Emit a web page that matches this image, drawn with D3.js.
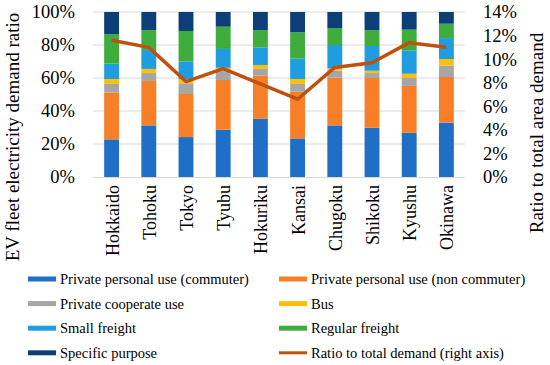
<!DOCTYPE html>
<html>
<head>
<meta charset="utf-8">
<script src="https://cdn.jsdelivr.net/npm/d3@7"></script>
<style>
  body { margin: 0; background: #fff; }
</style>
</head>
<body>
<svg id="vis" width="550" height="365"></svg>
<script>
// regions on the x axis
var regions = ["Hokkaido", "Tohoku", "Tokyo", "Tyubu", "Hokuriku", "Kansai", "Chugoku", "Shikoku", "Kyushu", "Okinawa"];

// share of each use type (%), bottom to top
var commuter    = [22.8, 31.3, 24.2, 28.7, 35.3, 23.4, 31.3, 29.9, 26.8, 32.9];
var nonCommuter = [28.3, 26.9, 26.1, 30.1, 26.1, 28.3, 28.9, 30.1, 28.4, 27.7];
var cooperate   = [5.3, 4.8, 6.5, 5.4, 4.1, 4.7, 4.2, 3.0, 4.8, 6.9];
var bus         = [3.0, 2.5, 2.4, 2.0, 2.4, 3.0, 1.5, 1.4, 2.6, 4.0];
var smallFreight   = [9.3, 11.5, 10.9, 11.4, 10.7, 12.3, 14.1, 15.0, 14.2, 12.7];
var regularFreight = [17.8, 12.0, 18.4, 13.5, 10.5, 16.0, 10.3, 9.5, 12.5, 8.7];
var specific       = [13.5, 11.0, 11.5, 8.9, 10.9, 12.3, 9.7, 11.1, 10.7, 7.1];

// ratio to total area demand (%), right axis
var ratioTotal = [11.6, 11.0, 8.1, 9.2, 7.9, 6.6, 9.3, 9.7, 11.4, 11.0];

var leftTicks = [0, 20, 40, 60, 80, 100];
var rightTicks = [0, 2, 4, 6, 8, 10, 12, 14];

var seriesNames = ["Private personal use (commuter)", "Private personal use (non commuter)",
  "Private cooperate use", "Bus", "Small freight", "Regular freight", "Specific purpose"];
var seriesValues = [commuter, nonCommuter, cooperate, bus, smallFreight, regularFreight, specific];
var lineName = "Ratio to total demand (right axis)";

const colors = ["#1f6fc6", "#f77f27", "#a6a6a6", "#fdc00a", "#1f9de0", "#3fad3c", "#0c3f78"];
const lineColor = "#c0500f";
const serif = "'Liberation Serif', 'Times New Roman', Times, serif";

var svg = d3.select("svg#vis");

var plot = { left: 93, right: 465, top: 12, bottom: 177 };

var x = d3.scaleBand()
  .domain(regions)
  .range([plot.left, plot.right])
  .paddingInner(0.6)
  .paddingOuter(0.3);

var y = d3.scaleLinear().domain([0, 100]).range([plot.bottom, plot.top]);
var y2 = d3.scaleLinear().domain([0, 14]).range([plot.bottom, plot.top]);

// gridlines
svg.append("g")
  .selectAll("line")
  .data(leftTicks.slice(1))
  .enter()
  .append("line")
  .attr("x1", plot.left)
  .attr("x2", plot.right)
  .attr("y1", d => y(d))
  .attr("y2", d => y(d))
  .style("stroke", "#d9d9d9")
  .style("stroke-width", 1);

// stacked data
var table = regions.map(function(r, i) {
  var row = { region: r };
  seriesNames.forEach(function(s, k) { row[s] = seriesValues[k][i]; });
  return row;
});
var stack = d3.stack().keys(seriesNames)(table);

svg.append("g")
  .selectAll("g")
  .data(stack)
  .enter()
  .append("g")
  .style("fill", (d, i) => colors[i])
  .selectAll("rect")
  .data(d => d)
  .enter()
  .append("rect")
  .attr("x", d => x(d.data.region))
  .attr("width", x.bandwidth())
  .attr("y", d => y(d[1]))
  .attr("height", d => y(d[0]) - y(d[1]));

// bottom axis line
svg.append("line")
  .attr("x1", plot.left)
  .attr("x2", plot.right)
  .attr("y1", plot.bottom + 0.5)
  .attr("y2", plot.bottom + 0.5)
  .style("stroke", "#d9d9d9")
  .style("stroke-width", 1);

// ratio line
var line = d3.line()
  .x((d, i) => x(regions[i]) + x.bandwidth() / 2)
  .y(d => y2(d));

svg.append("path")
  .datum(ratioTotal)
  .attr("d", line)
  .style("fill", "none")
  .style("stroke", lineColor)
  .style("stroke-width", 3.5)
  .style("stroke-linejoin", "round");

// left axis labels
var yAxis = d3.axisLeft(y).tickValues(leftTicks).tickFormat(d => d + "%").tickSize(0).tickPadding(18);
var gy = svg.append("g").attr("transform", "translate(" + plot.left + ",0)").call(yAxis);
gy.select(".domain").remove();
gy.attr("font-family", null).attr("font-size", null);
gy.selectAll("text").style("font-size", "18.5px").style("font-family", serif).style("fill", "#000");

// right axis labels
var y2Axis = d3.axisRight(y2).tickValues(rightTicks).tickFormat(d => d + "%").tickSize(0).tickPadding(18);
var gy2 = svg.append("g").attr("transform", "translate(" + plot.right + ",0)").call(y2Axis);
gy2.select(".domain").remove();
gy2.attr("font-family", null).attr("font-size", null);
gy2.selectAll("text").style("font-size", "18.5px").style("font-family", serif).style("fill", "#000");

// category labels
svg.append("g")
  .selectAll("text")
  .data(regions)
  .enter()
  .append("text")
  .attr("transform", d => "translate(" + (x(d) + x.bandwidth() / 2 + 7) + "," + (plot.bottom + 8) + ") rotate(-90)")
  .attr("text-anchor", "end")
  .style("font-family", serif)
  .style("font-size", "18px")
  .text(d => d);

// axis titles
svg.append("text")
  .attr("transform", "translate(19,137) rotate(-90)")
  .attr("text-anchor", "middle")
  .style("font-family", serif)
  .style("font-size", "19px")
  .text("EV fleet electricity demand ratio");

svg.append("text")
  .attr("transform", "translate(543,133) rotate(-90)")
  .attr("text-anchor", "middle")
  .style("font-family", serif)
  .style("font-size", "19px")
  .text("Ratio to total area demand");

// legend
var legendItems = seriesNames.map((s, i) => ({ name: s, color: colors[i], isLine: false }));
legendItems.push({ name: lineName, color: lineColor, isLine: true });

var legend = svg.append("g")
  .selectAll("g")
  .data(legendItems)
  .enter()
  .append("g")
  .attr("transform", (d, i) => "translate(" + (i % 2 == 0 ? 28 : 279) + "," + (279 + Math.floor(i / 2) * 24.6) + ")");

legend.append("rect")
  .attr("x", 0)
  .attr("y", d => d.isLine ? -1.5 : -2.5)
  .attr("width", 28)
  .attr("height", d => d.isLine ? 3 : 5)
  .style("fill", d => d.color);

legend.append("text")
  .attr("x", 32)
  .attr("y", 5)
  .style("font-family", serif)
  .style("font-size", "14.5px")
  .text(d => d.name);
</script>
</body>
</html>
